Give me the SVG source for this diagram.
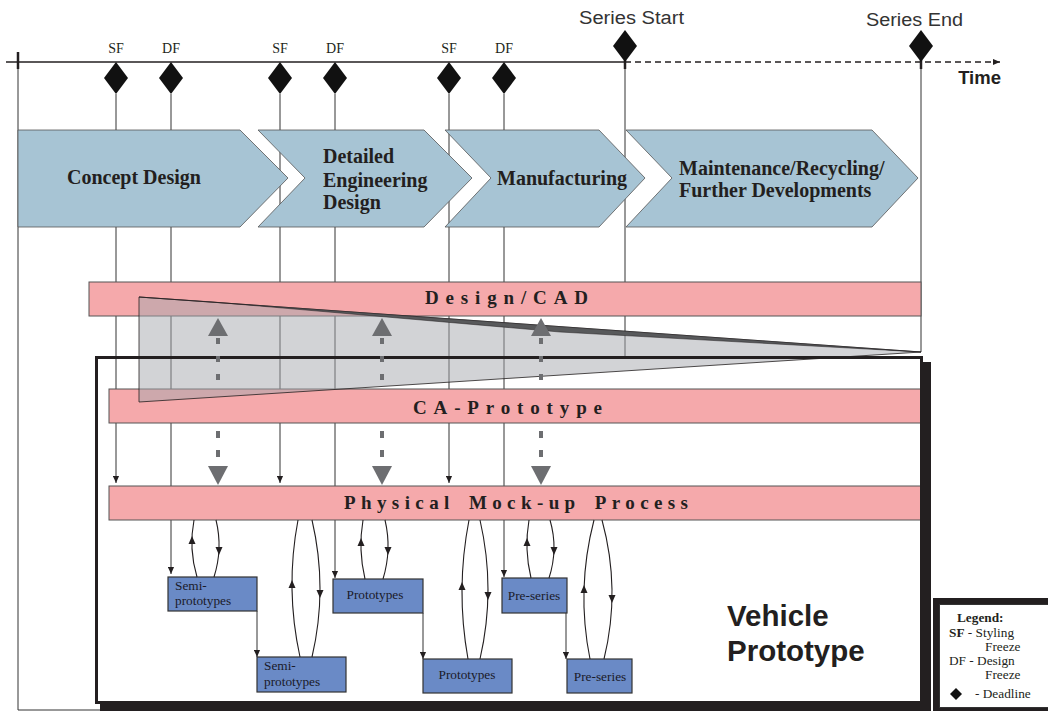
<svg xmlns="http://www.w3.org/2000/svg" width="1048" height="711" viewBox="0 0 1048 711">
<defs>
<style>
.vl{stroke:#333;stroke-width:1;fill:none}
.chev{fill:#a7c4d4;stroke:#555;stroke-width:0.8}
.ph{font-family:"Liberation Serif",serif;font-weight:bold;font-size:20px;fill:#231f20}
.bar{fill:#f5a9ab;stroke:#555;stroke-width:1}
.bl{font-family:"Liberation Serif",serif;font-weight:bold;font-size:19px;fill:#231f20}
.box{fill:#6a8ac6;stroke:#333;stroke-width:1.2}
.bt{font-family:"Liberation Serif",serif;font-size:13.3px;fill:#1a1a2a}
.lp{stroke:#231f20;stroke-width:1.1;fill:none}
.ga{stroke:#6d6e71;stroke-width:4;stroke-dasharray:6 12;fill:none}
.gh{fill:#6d6e71}
.ms{font-family:"Liberation Serif",serif;font-size:14px;fill:#231f20}
.ss{font-family:"Liberation Sans",sans-serif;font-size:18px;fill:#333}
.lg{font-family:"Liberation Serif",serif;font-size:13.3px;fill:#231f20}
</style>
<marker id="ah" viewBox="0 0 8 8" refX="8" refY="4" markerWidth="7" markerHeight="7" markerUnits="userSpaceOnUse" orient="auto"><path d="M0,0.5 L8,4 L0,7.5 Z" fill="#231f20"/></marker>
<marker id="ta" viewBox="0 0 8 8" refX="8" refY="4" markerWidth="7" markerHeight="7" markerUnits="userSpaceOnUse" orient="auto"><path d="M0,0.5 L8,4 L0,7.5 Z" fill="#231f20"/></marker>
<path id="au" d="M0,-5 L3.5,3 L-3.5,3 Z" fill="#231f20"/>
<path id="ad" d="M0,5 L3.5,-3 L-3.5,-3 Z" fill="#231f20"/>
<path id="dm" d="M0,-16 L12,0 L0,16 L-12,0 Z" fill="#111"/>
</defs>

<g id="connectors">
<line class="vl" x1="18" y1="62" x2="18" y2="710"/>
<line class="vl" x1="18" y1="710" x2="100" y2="710"/>
<line class="vl" x1="116" y1="94" x2="116" y2="483" marker-end="url(#ah)"/>
<line class="vl" x1="171" y1="94" x2="171" y2="574" marker-end="url(#ah)"/>
<line class="vl" x1="280" y1="94" x2="280" y2="483" marker-end="url(#ah)"/>
<line class="vl" x1="335" y1="94" x2="335" y2="578" marker-end="url(#ah)"/>
<line class="vl" x1="449" y1="94" x2="449" y2="483" marker-end="url(#ah)"/>
<line class="vl" x1="504" y1="94" x2="504" y2="577" marker-end="url(#ah)"/>
<line class="vl" x1="625" y1="62" x2="625" y2="357"/>
<line class="vl" x1="921" y1="62" x2="921" y2="352"/>
</g>

<g id="timeline">
<line x1="6" y1="62" x2="625" y2="62" stroke="#231f20" stroke-width="1.3"/>
<line x1="625" y1="62" x2="1000" y2="62" stroke="#231f20" stroke-width="1.3" stroke-dasharray="6 4" marker-end="url(#ta)"/>
<line x1="18" y1="52" x2="18" y2="69" stroke="#231f20" stroke-width="2.5"/>
<line x1="625" y1="60" x2="625" y2="69" stroke="#231f20" stroke-width="2.5"/>
<line x1="921" y1="60" x2="921" y2="69" stroke="#231f20" stroke-width="2.5"/>
<text x="1001" y="84" text-anchor="end" font-family="Liberation Sans, sans-serif" font-weight="bold" font-size="18.5" fill="#231f20">Time</text>
</g>

<g id="milestones">
<use href="#dm" x="116" y="78"/><text class="ms" x="116" y="53" text-anchor="middle">SF</text>
<use href="#dm" x="171" y="78"/><text class="ms" x="171" y="53" text-anchor="middle">DF</text>
<use href="#dm" x="280" y="78"/><text class="ms" x="280" y="53" text-anchor="middle">SF</text>
<use href="#dm" x="335" y="78"/><text class="ms" x="335" y="53" text-anchor="middle">DF</text>
<use href="#dm" x="449" y="78"/><text class="ms" x="449" y="53" text-anchor="middle">SF</text>
<use href="#dm" x="504" y="78"/><text class="ms" x="504" y="53" text-anchor="middle">DF</text>
<use href="#dm" x="625" y="46"/><text class="ss" x="579" y="24" textLength="105" lengthAdjust="spacingAndGlyphs">Series Start</text>
<use href="#dm" x="921" y="46"/><text class="ss" x="866" y="26" textLength="97" lengthAdjust="spacingAndGlyphs">Series End</text>
</g>

<g id="concept-design"><path class="chev" d="M18,130 H240 L288,178 L240,227 H18 Z"/><text class="ph" x="67" y="184">Concept Design</text></g>
<g id="detailed-engineering"><path class="chev" d="M258,130 H424 L472,178 L424,227 H258 L305,178 Z"/><text class="ph" x="323" y="163">Detailed</text><text class="ph" x="323" y="187">Engineering</text><text class="ph" x="323" y="209">Design</text></g>
<g id="manufacturing"><path class="chev" d="M445,130 H599 L645,178 L599,227 H445 L491,178 Z"/><text class="ph" x="497" y="185">Manufacturing</text></g>
<g id="maintenance"><path class="chev" d="M626,130 H872 L918,178 L872,227 H626 L672,178 Z"/><text class="ph" x="679" y="175">Maintenance/Recycling/</text><text class="ph" x="679" y="197">Further Developments</text></g>

<g id="design-cad"><rect class="bar" x="89" y="282" width="832" height="34"/><text class="bl" x="425" y="304" textLength="163" lengthAdjust="spacing">Design/CAD</text></g>
<g id="ca-prototype"><rect class="bar" x="109" y="389" width="812" height="34"/><text class="bl" x="413" y="414" textLength="189" lengthAdjust="spacing">CA-Prototype</text></g>
<g id="pmu-process"><rect class="bar" x="109" y="486" width="812" height="34"/><text class="bl" x="344" y="509" textLength="344" lengthAdjust="spacing" word-spacing="4">Physical Mock-up Process</text></g>

<g id="wedge">
<polygon points="139,297 921,352 139,402" fill="#a6a8ad" fill-opacity="0.5" stroke="#231f20" stroke-width="0.8"/>
<polygon points="139,297 921,352 560,332 213,302" fill="#58595b" stroke="#231f20" stroke-width="0.5"/>
</g>

<g id="vehicle-prototype">
<rect x="922" y="362" width="9" height="349" fill="#231f20"/>
<rect x="100" y="702" width="831" height="9" fill="#231f20"/>
<rect x="96.5" y="357.5" width="825" height="345" fill="none" stroke="#231f20" stroke-width="3"/>
<text x="727" y="626" font-family="Liberation Sans, sans-serif" font-weight="bold" font-size="29.5" fill="#231f20">Vehicle</text>
<text x="727" y="661" font-family="Liberation Sans, sans-serif" font-weight="bold" font-size="29.5" fill="#231f20">Prototype</text>
</g>

<g id="data-exchange">
<line class="ga" x1="218" y1="338" x2="218" y2="381"/><polygon class="gh" points="218,318 228,336 208,336"/>
<line class="ga" x1="218" y1="431" x2="218" y2="462" style="stroke-dasharray:7 12"/><polygon class="gh" points="218,485 228,466 208,466"/>
<line class="ga" x1="382" y1="338" x2="382" y2="381"/><polygon class="gh" points="382,318 392,336 372,336"/>
<line class="ga" x1="382" y1="431" x2="382" y2="462" style="stroke-dasharray:7 12"/><polygon class="gh" points="382,485 392,466 372,466"/>
<line class="ga" x1="541" y1="338" x2="541" y2="381"/><polygon class="gh" points="541,318 551,336 531,336"/>
<line class="ga" x1="541" y1="431" x2="541" y2="462" style="stroke-dasharray:7 12"/><polygon class="gh" points="541,485 551,466 531,466"/>
</g>

<g id="semi-prototypes-1"><rect class="box" x="168" y="577" width="89" height="34"/><text class="bt" x="175" y="590">Semi-</text><text class="bt" x="175" y="605">prototypes</text></g>
<g id="semi-prototypes-2"><rect class="box" x="257" y="657" width="89" height="35"/><text class="bt" x="264" y="670">Semi-</text><text class="bt" x="264" y="686">prototypes</text></g>
<g id="prototypes-1"><rect class="box" x="333" y="579" width="90" height="34"/><text class="bt" x="375" y="599" text-anchor="middle">Prototypes</text></g>
<g id="prototypes-2"><rect class="box" x="423" y="659" width="89" height="34"/><text class="bt" x="467" y="679" text-anchor="middle">Prototypes</text></g>
<g id="pre-series-1"><rect class="box" x="502" y="578" width="65" height="35"/><text class="bt" x="534" y="600" text-anchor="middle">Pre-series</text></g>
<g id="pre-series-2"><rect class="box" x="567" y="659" width="65" height="34"/><text class="bt" x="600" y="681" text-anchor="middle">Pre-series</text></g>

<g id="loops">
<line class="vl" x1="257" y1="611" x2="257" y2="657" marker-end="url(#ah)"/>
<line class="vl" x1="423" y1="613" x2="423" y2="659" marker-end="url(#ah)"/>
<line class="vl" x1="566" y1="613" x2="566" y2="659" marker-end="url(#ah)"/>
<path class="lp" d="M197,577 Q188.5,548.5 194,520"/><path class="lp" d="M216,520 Q223,548.5 214,577"/>
<use href="#au" x="192" y="541"/><use href="#ad" x="219" y="550"/>
<path class="lp" d="M300,657 Q285,588.5 298,520"/><path class="lp" d="M312,520 Q328,588.5 312,657"/>
<use href="#au" x="292" y="585"/><use href="#ad" x="320" y="593"/>
<path class="lp" d="M365,579 Q358,549.5 363,520"/><path class="lp" d="M385,520 Q392,549.5 383,579"/>
<use href="#au" x="361" y="543"/><use href="#ad" x="388" y="550"/>
<path class="lp" d="M468,659 Q455.5,589.5 469,520"/><path class="lp" d="M480,520 Q496,589.5 480,659"/>
<use href="#au" x="462" y="587"/><use href="#ad" x="488" y="595"/>
<path class="lp" d="M531,578 Q524,549 529,520"/><path class="lp" d="M550,520 Q558.5,549 549,578"/>
<use href="#au" x="527" y="543"/><use href="#ad" x="554" y="550"/>
<path class="lp" d="M590,659 Q576,589.5 594,520"/><path class="lp" d="M602,520 Q621,589.5 604,659"/>
<use href="#au" x="584" y="590"/><use href="#ad" x="612" y="598"/>
</g>

<g id="legend">
<rect x="933" y="598" width="120" height="113" fill="#231f20"/>
<rect x="939.5" y="604.5" width="115" height="103" fill="#fff" stroke="#333" stroke-width="1"/>
<text class="lg" x="957" y="622" font-weight="bold">Legend:</text>
<text class="lg" x="949" y="637"><tspan font-weight="bold">SF</tspan> - Styling</text>
<text class="lg" x="985" y="651">Freeze</text>
<text class="lg" x="949" y="665">DF - Design</text>
<text class="lg" x="985" y="679">Freeze</text>
<polygon points="956,688 962,694 956,700 950,694" fill="#111"/>
<text class="lg" x="975" y="698">- Deadline</text>
</g>
</svg>
